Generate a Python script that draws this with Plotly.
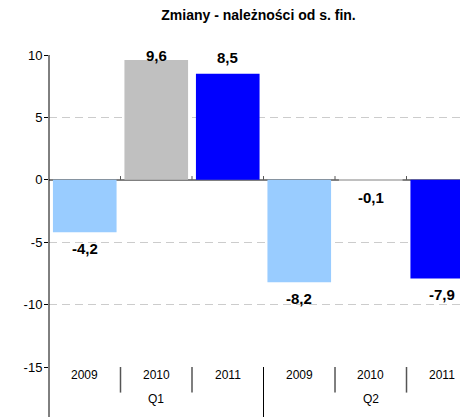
import plotly.graph_objects as go

quarters = ["Q1", "Q1", "Q1", "Q2", "Q2", "Q2"]
years = ["2009", "2010", "2011", "2009", "2010", "2011"]
values = [-4.2, 9.6, 8.5, -8.2, -0.1, -7.9]
year_colors = {"2009": "#99CCFF", "2010": "#C0C0C0", "2011": "#0000FF"}
y_ticks = [10, 5, 0, -5, -10, -15]
y_range = [-15, 10]

xs = list(range(len(values)))
colors = [year_colors[y] for y in years]
labels = [f"{v:.1f}".replace(".", ",") for v in values]

FONT = "Liberation Sans, Arial"
LABEL_OFFSET = 1.3  # data units between bar end and label centre

fig = go.Figure()
fig.add_trace(go.Bar(
    x=xs, y=values, marker=dict(color=colors, line=dict(width=0)),
    width=0.89, showlegend=False, hoverinfo="skip",
))

shapes = []
shapes.append(dict(type="line", xref="paper", yref="paper", x0=0, x1=0,
                   y0=-0.2, y1=1, line=dict(color="black", width=1)))
for i in range(len(xs) - 1):
    b = i + 0.5
    long = quarters[i] != quarters[i + 1]
    shapes.append(dict(type="line", xref="x", yref="paper", x0=b, x1=b,
                       y0=-0.2 if long else -0.082, y1=0,
                       line=dict(color="black" if long else "#555555", width=1 if long else 1.5)))
    shapes.append(dict(type="line", xref="x", yref="y", x0=b, x1=b,
                       y0=0, y1=0.3, line=dict(color="#555555", width=1)))

annotations = []
for i, (v, t) in enumerate(zip(values, labels)):
    ly = v + LABEL_OFFSET if v >= 0 else v - LABEL_OFFSET
    ly = min(ly, y_range[1])
    annotations.append(dict(x=i, y=ly, xref="x", yref="y", text=f"<b>{t}</b>",
                            showarrow=False, yanchor="middle",
                            font=dict(size=15, color="black", family=FONT)))
for i, y in enumerate(years):
    annotations.append(dict(x=i, y=-0.056, xref="x", yref="paper", text=y,
                            showarrow=False, font=dict(size=12, color="black", family=FONT)))
qpos = {}
for i, q in enumerate(quarters):
    qpos.setdefault(q, []).append(i)
for q, idx in qpos.items():
    annotations.append(dict(x=sum(idx) / len(idx), y=-0.13, xref="x", yref="paper",
                            text=q, showarrow=False,
                            font=dict(size=12, color="black", family=FONT)))

fig.update_layout(
    width=460, height=409,
    margin=dict(l=41, r=0, t=47, b=49.5),
    plot_bgcolor="white", paper_bgcolor="white",
    title=dict(text="<b>Zmiany - należności od s. fin.</b>", x=0.5, xref="paper",
               y=0.983, yanchor="middle",
               font=dict(family=FONT, size=14, color="black")),
    xaxis=dict(range=[-0.5, 5.36], showticklabels=False, showgrid=False,
               zeroline=False, showline=False, ticks=""),
    yaxis=dict(range=y_range, tickvals=y_ticks, ticktext=[str(t) for t in y_ticks],
               showgrid=True, gridcolor="#CCCCCC", griddash="8px,5px", gridwidth=1,
               zeroline=True, zerolinecolor="#808080", zerolinewidth=2,
               showline=False, ticks="outside", ticklen=4, tickcolor="black",
               ticklabelstandoff=-1,
               tickfont=dict(family=FONT, size=13, color="black")),
    shapes=shapes, annotations=annotations,
    font=dict(family=FONT),
)

fig.write_html("out.html")
